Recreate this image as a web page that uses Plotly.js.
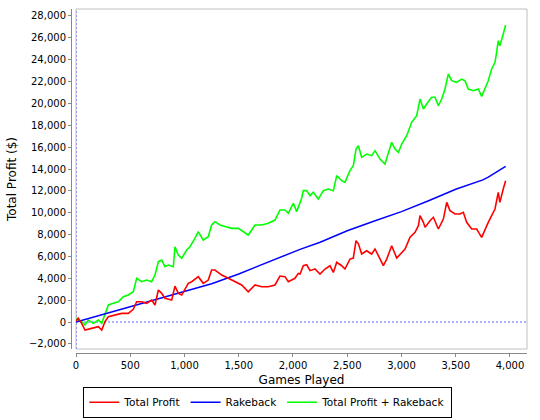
<!DOCTYPE html>
<html>
<head>
<meta charset="utf-8">
<script src="https://cdn.plot.ly/plotly-3.0.1.min.js"></script>
<style>html,body{margin:0;padding:0;background:#fff;}#chart{width:540px;height:420px;}</style>
</head>
<body>
<div id="chart"></div>
<script>
// Total Profit (red)
const profitGames = [0,20,52,83,144,206,237,267,298,359,421,482,528,559,605,651,697,728,759,790,820,882,912,943,974,1035,1066,1127,1173,1219,1250,1281,1343,1404,1465,1527,1588,1650,1711,1772,1834,1880,1926,1957,2018,2049,2065,2095,2126,2157,2203,2249,2295,2341,2372,2403,2449,2479,2525,2556,2581,2603,2633,2679,2725,2756,2787,2833,2864,2910,2956,2987,3033,3079,3125,3156,3171,3202,3217,3263,3294,3340,3386,3417,3447,3493,3539,3570,3601,3647,3693,3739,3769,3800,3831,3862,3892,3907,3938,3960];
const profitValues = [100,350,-120,-730,-580,-430,-730,30,490,640,790,790,1160,1860,1860,1710,2010,1560,2930,2620,2170,2010,3290,2620,2470,3540,3690,4150,3540,3840,4760,4760,4300,4000,3690,3390,2770,3390,3230,3230,3390,4210,4150,3690,4000,4450,4390,5150,5240,4700,4850,4390,4850,5150,4540,5460,5150,4850,5760,5850,7440,7160,6220,6520,6220,6680,6070,5150,5760,6980,5850,6220,6680,7750,8210,8810,9730,9120,8660,9270,9580,8510,9420,10950,10190,9880,9880,10040,9120,8510,8510,7750,8510,9120,9730,10340,11870,10950,12170,12930];

// Rakeback (blue)
const rakebackGames = [0,250,500,750,1000,1250,1500,1750,2000,2065,2250,2500,2750,3000,3250,3500,3750,3800,3960];
const rakebackValues = [0,700,1400,2100,2800,3500,4400,5400,6400,6650,7300,8350,9250,10100,11100,12150,13000,13250,14250];

// Total Profit + Rakeback (green)
const comboGames = [0,21,52,83,113,160,206,237,267,298,344,390,436,482,528,559,605,651,697,728,759,790,820,851,897,912,943,974,1020,1050,1096,1127,1173,1219,1250,1281,1327,1373,1434,1496,1542,1588,1650,1711,1772,1834,1880,1926,1957,2003,2034,2065,2080,2095,2126,2157,2187,2233,2280,2326,2372,2403,2449,2479,2525,2556,2581,2603,2633,2679,2725,2756,2802,2848,2879,2910,2941,2972,3002,3048,3094,3140,3171,3202,3232,3278,3309,3340,3371,3401,3432,3463,3509,3555,3585,3616,3662,3708,3739,3769,3800,3831,3862,3877,3892,3907,3923,3938,3960];
const comboValues = [300,200,30,-270,180,-120,180,-120,790,1560,1710,1860,2320,2470,2770,4000,3690,3840,3690,4300,5520,5670,5060,5210,5060,6890,6130,5830,6590,6890,7660,8260,7500,7810,8880,9180,8880,8720,8570,8570,8260,7960,8880,8880,9030,9330,10250,10250,9950,10860,10100,10950,11320,12020,12020,11560,11870,11250,12020,12170,12020,13390,12930,12780,13850,14300,15830,16130,15070,15370,15220,15680,14910,14460,15530,16440,15830,15530,16290,17050,18270,18880,20400,19490,19950,20560,20560,19800,20400,21320,22690,22080,21930,22230,22080,21320,21160,21320,20650,21320,22080,23150,23760,24680,25740,25280,25740,26350,27180];

const seriesNames = ["Total Profit", "Rakeback", "Total Profit + Rakeback"];
const xTicks = [0,500,1000,1500,2000,2500,3000,3500,4000];
const yTicks = [-2000,0,2000,4000,6000,8000,10000,12000,14000,16000,18000,20000,22000,24000,26000,28000];

const font = "DejaVu Sans, Verdana, sans-serif";

const traces = [
  {x: comboGames, y: comboValues, name: seriesNames[2], type: "scatter", mode: "lines",
   line: {color: "#00ff00", width: 1.6}},
  {x: rakebackGames, y: rakebackValues, name: seriesNames[1], type: "scatter", mode: "lines",
   line: {color: "#0000ff", width: 1.5}},
  {x: profitGames, y: profitValues, name: seriesNames[0], type: "scatter", mode: "lines",
   line: {color: "#ff0000", width: 1.6}}
];

const layout = {
  width: 540, height: 420,
  margin: {l: 71, r: 13, t: 9, b: 67, pad: 0, autoexpand: false},
  paper_bgcolor: "#ffffff", plot_bgcolor: "#ffffff",
  font: {family: font, size: 10, color: "#000"},
  showlegend: true,
  legend: {orientation: "h", xref: "container", yref: "container",
           x: 0.496, xanchor: "center", y: 0.079, yanchor: "top",
           bordercolor: "#000", borderwidth: 1, traceorder: "reversed", tracegroupgap: 0,
           font: {family: font, size: 10.5, color: "#000"}, itemwidth: 30},
  xaxis: {domain: [0.011, 1], range: [0, 4157], anchor: "free", position: 0,
          tickvals: xTicks, tickformat: ",d", showgrid: false, zeroline: false,
          showline: true, linecolor: "#888", linewidth: 1, ticks: "outside", ticklen: 3, tickcolor: "#888",
          tickfont: {family: font, size: 10, color: "#000"},
          title: {text: "Games Played", font: {family: font, size: 12, color: "#000"}, standoff: 5}},
  yaxis: {domain: [0.0116, 1], range: [-2470, 28640], anchor: "free", position: 0,
          tickvals: yTicks, tickformat: ",d", showgrid: false, zeroline: false,
          showline: true, linecolor: "#888", linewidth: 1, ticks: "outside", ticklen: 3, tickcolor: "#888",
          tickfont: {family: font, size: 10, color: "#000"},
          title: {text: "Total Profit ($)", font: {family: font, size: 12, color: "#000"}, standoff: 8}},
  shapes: [
    {type: "rect", xref: "x domain", yref: "y domain", x0: 0, x1: 1, y0: 0, y1: 1,
     line: {color: "#c0c0c0", width: 1}, layer: "below"},
    {type: "line", xref: "x domain", yref: "y", x0: 0, x1: 1, y0: 0, y1: 0,
     line: {color: "#6060ff", width: 1, dash: "2px,2px"}, layer: "below"},
    {type: "line", xref: "x", yref: "y domain", x0: 0, x1: 0, y0: 0, y1: 1,
     line: {color: "#6060ff", width: 1, dash: "2px,2px"}, layer: "below"}
  ]
};

Plotly.newPlot("chart", traces, layout, {staticPlot: true, displayModeBar: false});
</script>
</body>
</html>
